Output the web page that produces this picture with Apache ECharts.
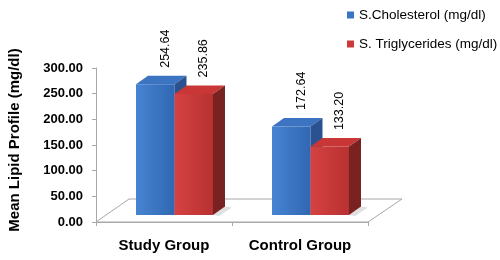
<!DOCTYPE html>
<html>
<head>
<meta charset="utf-8">
<script src="https://cdn.jsdelivr.net/npm/echarts@6/dist/echarts.min.js"></script>
<style>html,body{margin:0;padding:0;background:#fff}#chart{width:500px;height:260px}</style>
</head>
<body>
<div id="chart"></div>
<script>
const categories = ['Study Group', 'Control Group'];
const seriesNames = ['S.Cholesterol (mg/dl)', 'S. Triglycerides (mg/dl)'];
const cholesterol = [254.64, 172.64];
const triglycerides = [235.86, 133.20];
const yMin = 0, yMax = 300, yInterval = 50;
const yAxisTitle = 'Mean Lipid Profile (mg/dl)';

const FONT = '"Liberation Sans", Arial, sans-serif';
const palette = [
  {front: ['#4684d2', '#3167b2'], top: '#3c74c2', side: '#2a5290', legend: '#3a74c4'},
  {front: ['#d64242', '#b83131'], top: '#c93636', side: '#7a2121', legend: '#cc3a3a'}
];
const BAR_W = 38.5, GROUP_OFF = -28, LIFT = 7, DX = 12, DY = -8.5;

function barRender(slot) {
  const col = palette[slot];
  return function (params, api) {
    const base = api.coord([api.value(0), 0]);
    const top = api.coord([api.value(0), api.value(1)]);
    const x0 = base[0] + GROUP_OFF + slot * BAR_W;
    const x1 = x0 + BAR_W;
    const yb = base[1] - LIFT;
    const yt = top[1] - LIFT;
    const val = api.value(1);
    const children = [];
    if (slot === 1) {
      children.push({type: 'polygon', shape: {points: [[x1, yb], [x1 + 6, yb + 1], [x1 + DX + 7, yb + DY + 1], [x1 + DX, yb + DY]]},
        style: {fill: 'rgba(0,0,0,0.12)'}});
    }
    children.push(
      {type: 'rect', shape: {x: x0, y: yt, width: BAR_W, height: yb - yt},
       style: {fill: new echarts.graphic.LinearGradient(0, 0, 1, 0, [{offset: 0, color: col.front[0]}, {offset: 1, color: col.front[1]}])}},
      {type: 'polygon', shape: {points: [[x0, yt], [x1, yt], [x1 + DX, yt + DY], [x0 + DX, yt + DY]]},
       style: {fill: col.top}},
      {type: 'polygon', shape: {points: [[x1, yt], [x1 + DX, yt + DY], [x1 + DX, yb + DY], [x1, yb]]},
       style: {fill: col.side}},
      {type: 'text', x: (x0 + x1) / 2 + 10, y: yt + DY - 8, rotation: Math.PI / 2,
       style: {text: val.toFixed(2), font: '12.5px ' + FONT, fill: '#000', align: 'left', verticalAlign: 'middle'}}
    );
    return {type: 'group', children: children};
  };
}

function floorRender(params, api) {
  const cs = params.coordSys;
  const xl = cs.x, xr = cs.x + cs.width, yf = cs.y + cs.height;
  return {
    type: 'polygon',
    shape: {points: [[xl, yf], [xr, yf], [xr + 34, yf - 23], [xl + 33, yf - 23]]},
    style: {fill: '#fff', stroke: '#a8a8a8', lineWidth: 1}
  };
}

const chart = echarts.init(document.getElementById('chart'), null, {renderer: 'canvas'});
chart.setOption({
  animation: false,
  backgroundColor: '#fff',
  grid: {left: 96, right: 132, top: 68, bottom: 38, containLabel: false},
  legend: {
    data: seriesNames,
    orient: 'vertical',
    left: 342, top: 2,
    itemWidth: 7, itemHeight: 7, itemGap: 13, icon: 'rect',
    textStyle: {fontFamily: FONT, fontSize: 13.5, color: '#000', lineHeight: 16}
  },
  graphic: [{
    type: 'text', x: 15, y: 140, rotation: Math.PI / 2,
    style: {text: yAxisTitle, font: 'bold 15px ' + FONT, fill: '#000', align: 'center', verticalAlign: 'middle'}
  }],
  xAxis: {
    type: 'category', data: categories, boundaryGap: true,
    axisLine: {show: true, lineStyle: {color: '#a8a8a8'}},
    axisTick: {show: true, length: 4, lineStyle: {color: '#a8a8a8'}},
    axisLabel: {fontFamily: FONT, fontSize: 15, fontWeight: 'bold', color: '#000', margin: 16}
  },
  yAxis: {
    type: 'value', min: yMin, max: yMax, interval: yInterval,
    axisLine: {show: true, lineStyle: {color: '#a8a8a8'}},
    axisTick: {show: true, length: 4, lineStyle: {color: '#a8a8a8'}},
    splitLine: {show: false},
    axisLabel: {fontFamily: FONT, fontSize: 13, fontWeight: 'bold', color: '#000', margin: 13,
      formatter: v => v.toFixed(2)}
  },
  series: [
    {type: 'custom', name: 'floor', renderItem: floorRender, data: [[0, 0]], silent: true, z: 1, clip: false},
    {type: 'custom', name: seriesNames[0], renderItem: barRender(0), encode: {x: 0, y: 1},
     itemStyle: {color: palette[0].legend}, z: 2, clip: false,
     data: categories.map((c, i) => [i, cholesterol[i]])},
    {type: 'custom', name: seriesNames[1], renderItem: barRender(1), encode: {x: 0, y: 1},
     itemStyle: {color: palette[1].legend}, z: 3, clip: false,
     data: categories.map((c, i) => [i, triglycerides[i]])}
  ]
});
</script>
</body>
</html>
